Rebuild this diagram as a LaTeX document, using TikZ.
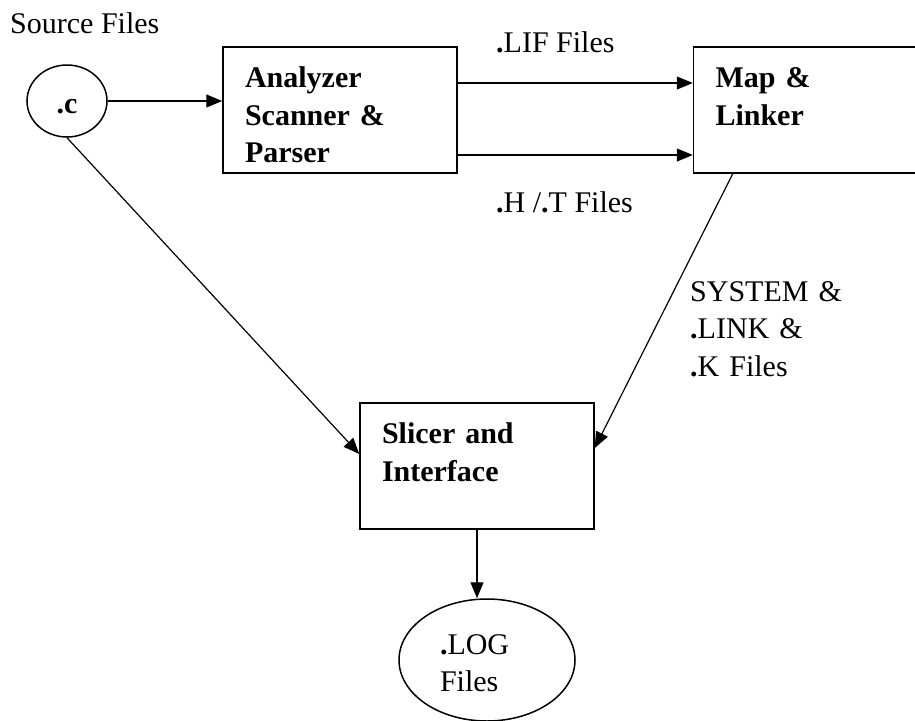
\documentclass[tikz,border=0pt]{standalone}
\usepackage{fontspec}
\setmainfont{Liberation Serif}
\usepackage{xcolor}
\definecolor{cInk}{HTML}{000000}
\usepackage{tikz}
\usetikzlibrary{positioning,arrows.meta,shapes.geometric}
\newcommand{\bdot}{\textbf{.}}
\tikzset{
  node-box/.style={draw=cInk,line width=1.5pt,rectangle,minimum height=126pt,
    inner xsep=22pt,inner ysep=0pt,align=left,
    font=\fontsize{30}{37.5}\selectfont\bfseries,
    text height=20pt,text depth=65pt},
  node-file/.style={draw=cInk,line width=1.5pt,ellipse,inner sep=0pt,
    align=left,font=\fontsize{30}{37.5}\selectfont},
  note/.style={inner sep=0pt,align=left,anchor=base west,
    font=\fontsize{30}{37.5}\selectfont},
  arrow/.style={-{Triangle[length=16pt,width=13pt]},line width=1.2pt,draw=cInk},
}

\begin{document}
\begin{tikzpicture}[x=1pt,y=-1pt]
  \clip (0,0) rectangle (915,720);
  \node[note] (srclbl) at (10,33) {Source Files};
  \node[node-file,minimum width=80pt,minimum height=72pt,
    font=\fontsize{30}{37.5}\selectfont\bfseries,
    text height=24pt,text depth=0pt] (cfile) at (67,101) {.c};
  \node[node-box,text width=190pt] (anl) at (340,110) {Analyzer\\Scanner \&\\Parser};
  \node[node-box,text width=184pt,right=235pt of anl] (map) {Map \&\\Linker};
  \node[node-box,text width=190pt] (slc) at (477,466) {Slicer and\\Interface};
  \node[node-file,minimum width=176pt,minimum height=122pt,text width=94pt,
    text height=20pt,text depth=32pt] (logf) at (487,660) {\bdot LOG\\Files};
  % file labels on the connectors
  \node[note] (liflbl) at (496,52) {\bdot LIF Files};
  \node[note] (htlbl) at (496,212) {\bdot H /\bdot T Files};
  \node[note,text width=200pt] (syslbl) at (690,301) {SYSTEM \&\\\bdot LINK \&\\\bdot K Files};
  \draw[arrow] (cfile) -- (cfile -| anl.west);
  \draw[arrow] ([yshift=27pt]anl.east) -- ([yshift=27pt]anl.east -| map.west);
  \draw[arrow] ([yshift=-45pt]anl.east) -- ([yshift=-45pt]anl.east -| map.west);
  \draw[arrow] (cfile.south) -- ([yshift=12pt]slc.west);
  \draw[arrow] ([xshift=40pt]map.south west) -- ([yshift=18pt]slc.east);
  \draw[arrow] (slc.south) -- (slc.south |- logf.north);
\end{tikzpicture}
\end{document}
